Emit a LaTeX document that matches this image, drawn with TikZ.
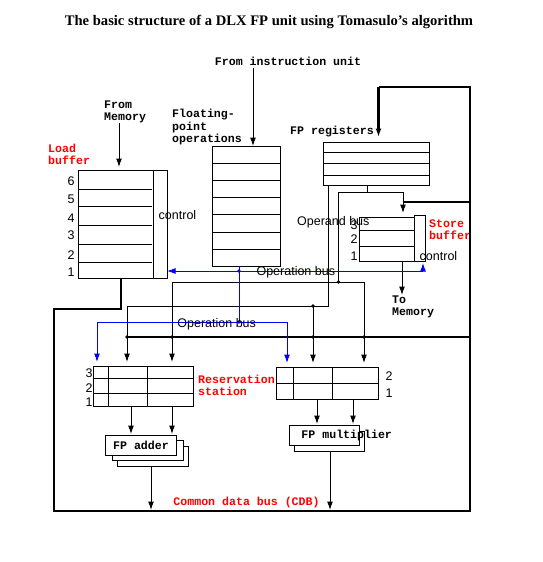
\documentclass[tikz,border=0pt]{standalone}
\usepackage{fontspec}
\setmainfont{Liberation Serif}
\newfontfamily\monofam{Liberation Mono}
\newfontfamily\sansfam{Liberation Sans}
\usetikzlibrary{arrows.meta}
\definecolor{busblue}{RGB}{0,0,255}
\definecolor{lblred}{RGB}{255,0,0}
\begin{document}
\begin{tikzpicture}[x=1pt,y=-1pt,
  wire/.style={line width=1pt},
  bus/.style={line width=2.8pt},
  ctl/.style={line width=1pt,draw=busblue},
  arr/.style={-{Latex[length=8.5pt,width=6pt]}},
  box/.style={draw,line width=1pt,fill=white,inner sep=0pt,outer sep=0pt,anchor=north west},
  ml/.style={font=\monofam\bfseries\fontsize{11.6}{12.2}\selectfont,inner sep=0pt,align=left},
  rl/.style={ml,text=lblred},
  sl/.style={font=\sansfam\fontsize{12.5}{13}\selectfont,inner sep=0pt},
  dot/.style={circle,fill,inner sep=0pt,minimum size=3.6pt},
  title/.style={font=\bfseries\fontsize{14.6}{16}\selectfont,inner sep=0pt}
]
\useasboundingbox (0,0) rectangle (542,562);

% ---------- title ----------
\node[title] (ttl) at (269,22) {The basic structure of a DLX FP unit using Tomasulo's algorithm};

% ---------- boxes ----------
\node[box,minimum width=89pt,minimum height=108pt] (lb) at (78,170) {};
\node[box,minimum width=68pt,minimum height=120pt] (fq) at (212,146) {};
\node[box,minimum width=106pt,minimum height=43pt] (fr) at (323,142) {};
\node[box,minimum width=55pt,minimum height=44pt] (sb) at (359,217) {};
\node[box,minimum width=11pt,minimum height=46pt] (sbc) at (414,215) {};
\node[box,minimum width=100pt,minimum height=40pt] (ars) at (93,366) {};
\node[box,minimum width=102pt,minimum height=32pt] (mrs) at (276,367) {};

% load buffer internals
\draw[wire] (153,170) -- (153,278);
\foreach \yy in {189,206,225,244,262} \draw[wire] (78,\yy) -- (152,\yy);
\foreach \n/\yy in {6/181,5/199,4/218,3/235,2/255,1/272}
  \node[sl] (lbn\n) at (71,\yy) {\n};
\node[sl] (lbctl) at (177.5,215) {control};

% FP operation queue internals
\foreach \yy in {163,180,197,214,232,249} \draw[wire] (212,\yy) -- (280,\yy);

% FP registers internals
\foreach \yy in {152,163,175} \draw[wire] (323,\yy) -- (430,\yy);

% store buffer internals
\foreach \yy in {230,246} \draw[wire] (359,\yy) -- (414,\yy);
\node[sl] (sbn3) at (354,225) {3};
\node[sl] (sbn2) at (354,239.5) {2};
\node[sl] (sbn1) at (354,256) {1};
\node[sl] (sbctl) at (438.5,256) {control};

% reservation station internals
\foreach \yy in {378,393} \draw[wire] (93,\yy) -- (193,\yy);
\foreach \xx in {108,147} \draw[wire] (\xx,366) -- (\xx,406);
\node[sl] (an3) at (89,373) {3};
\node[sl] (an2) at (89,388) {2};
\node[sl] (an1) at (89,402) {1};
\draw[wire] (276,383) -- (378,383);
\foreach \xx in {293,332} \draw[wire] (\xx,367) -- (\xx,399);
\node[sl] (mn2) at (389,376) {2};
\node[sl] (mn1) at (389,393.5) {1};

% functional units
\node[box,minimum width=71pt,minimum height=20pt] (fa3) at (117,446) {};
\node[box,minimum width=71pt,minimum height=20pt] (fa2) at (112,440) {};
\node[box,minimum width=71pt,minimum height=20pt] (fa1) at (105,435) {};
\node[ml] (falbl) at (141,445.5) {FP adder};
\node[box,minimum width=70pt,minimum height=20pt] (fm2) at (294,431) {};
\node[box,minimum width=70pt,minimum height=20pt] (fm1) at (289,425) {};
\node[ml] (fmlbl) at (346.7,435) {FP multiplier};

% ---------- labels ----------
\node[ml] (fiu) at (288,61) {From instruction unit};
\node[ml,anchor=west] (fmem) at (104,112) {From\\Memory};
\node[rl,anchor=west] (lbl) at (48,154) {Load\\buffer};
\node[ml,anchor=west] (fpo) at (172,127) {Floating-\\point\\operations};
\node[ml,anchor=west] (frl) at (290,132) {FP registers};
\node[rl,anchor=west] (sbl) at (429,230) {Store\\buffer};
\node[ml,anchor=west] (tom) at (392,306.5) {To\\Memory};
\node[rl,anchor=west] (rsl) at (198,385) {Reservation\\station};
\node[rl] (cdbl) at (246.5,502) {Common data bus (CDB)};

% ---------- coordinates ----------
\coordinate (iu) at (253,68);
\coordinate (mem) at (119,123);
\coordinate (frt) at (378.5,87);
\coordinate (tr) at (470,87);
\coordinate (br) at (470,511);
\coordinate (bl) at (54,511);
\coordinate (lk) at (54,309);
\coordinate (lbo) at (121,309);
\coordinate (sbj) at (470,202);
\coordinate (cdbj) at (470,337);
\coordinate (frj) at (367,192);
\coordinate (opa) at (338.5,192);
\coordinate (opb) at (338.5,282);
\coordinate (opl) at (172,282);
\coordinate (opr) at (364,282);
\coordinate (rga) at (328,306);
\coordinate (rgl) at (127,306);
\coordinate (rgm) at (313,306);
\coordinate (blr) at (423,271);
\coordinate (bqa) at (239,271);
\coordinate (bqb) at (239,322);
\coordinate (bll) at (97,322);
\coordinate (blm) at (287,322);

% ---------- thick buses ----------
\draw[bus,line join=miter] (lb.south -| lbo) -- (lbo) -- (lk) -- (bl) -- (br) -- (tr) -- (frt);
\draw[bus,arr] (frt) -- ([yshift=5pt]frt |- fr.north);
\draw[bus] (sbj) -- (sbj -| sb.north east) -- (403,202);
\draw[bus] (cdbj) -- (127,337);

% ---------- thin connectors ----------
\draw[wire,arr] (iu) -- (fq.north -| iu);
\draw[wire,arr] (mem) -- ([yshift=3pt]lb.north -| mem);
\draw[wire] (frj |- fr.south) -- (frj) -- (opa);
\draw[wire] (frj) -- (403,192);
\draw[wire,arr] (403,192) -- (403,213);
\draw[wire] (opa) -- (opb);
\draw[wire] (opl) -- (opr);
\draw[wire,arr] (opl) -- ([yshift=4pt]ars.north -| opl);
\draw[wire,arr] (opr) -- ([yshift=4pt]mrs.north -| opr);
\draw[wire] (rga |- fr.south) -- (rga) -- (rgl);
\draw[wire,arr] (rgl) -- ([yshift=4pt]ars.north -| rgl);
\draw[wire,arr] (rgm) -- ([yshift=4pt]mrs.north -| rgm);
% store buffer to memory
\draw[wire,arr] (402,261) -- (402,295);
% reservation station outputs
\draw[wire,arr] (131,406) -- (131,434);
\draw[wire,arr] (172,406) -- (172,434);
\draw[wire,arr] (317,399) -- (317,424);
\draw[wire,arr] (353,399) -- (353,424);
% unit outputs to CDB
\draw[wire,arr] (151,466) -- (151,510);
\draw[wire,arr] (330,451) -- (330,510);

% ---------- blue operation bus ----------
\draw[ctl,arr] (blr) -- (lb.east |- blr);
\draw[ctl,arr] (blr) -- ([yshift=-2pt]blr |- sbc.south);
\draw[ctl] (bqa |- fq.south) -- (bqb);
\draw[ctl] (bll) -- (blm);
\draw[ctl,arr] (bll) -- ([yshift=4pt]ars.north -| bll);
\draw[ctl,arr] (blm) -- ([yshift=4pt]mrs.north -| blm);

% ---------- junction dots ----------
\node[dot,busblue] (d1) at (bqa) {};
\node[dot,busblue] (d2) at (bqb) {};
\node[dot] (d3) at (opb) {};
\node[dot] (d4) at (rgm) {};
\node[dot] (d5) at (127,337) {};
\node[dot] (d6) at (172,337) {};
\node[dot] (d7) at (313,337) {};
\node[dot] (d8) at (364,337) {};

% ---------- bus labels (drawn last) ----------
\node[sl] (opnd) at (333.3,222) {Operand bus};
\node[sl] (opn1) at (295.8,272.5) {Operation bus};
\node[sl] (opn2) at (216.7,324) {Operation bus};
\end{tikzpicture}
\end{document}
